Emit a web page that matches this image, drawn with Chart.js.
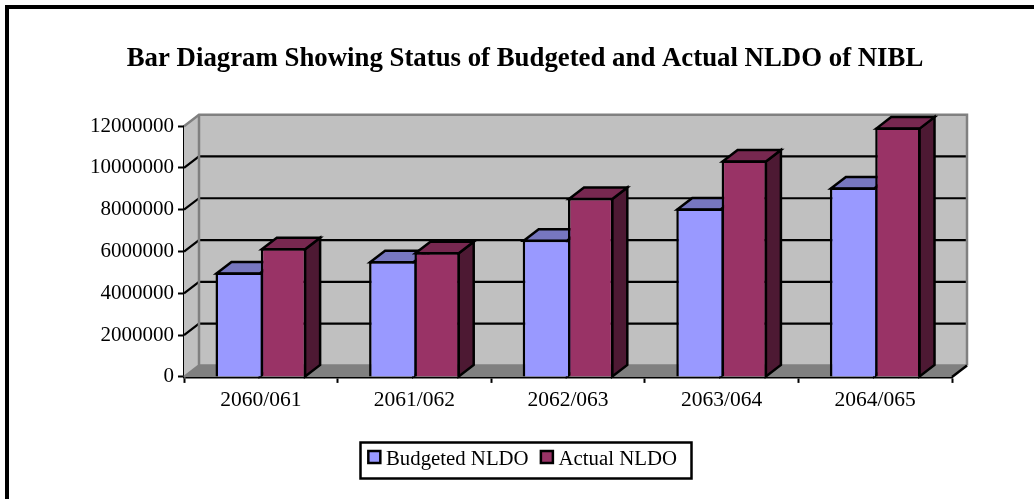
<!DOCTYPE html>
<html><head><meta charset="utf-8">
<style>html,body{margin:0;padding:0;background:#fff;width:1034px;height:499px;overflow:hidden}
#wrap{position:absolute;left:0;top:0;width:1034px;height:499px}
canvas{display:block}</style>
<script src="https://cdn.jsdelivr.net/npm/chart.js@4/dist/chart.umd.js"></script>
</head><body><div id="wrap"><canvas id="c" width="1034" height="499"></canvas></div>
<script>
const categories = ['2060/061','2061/062','2062/063','2063/064','2064/065'];
const budgeted = [5000000,5540000,6560000,8060000,9060000];
const actual = [6160000,5960000,8560000,10360000,11930000];
const seriesNames = ['Budgeted NLDO','Actual NLDO'];
const seriesColors = ['#9999FF','#993366'];
const titleText = 'Bar Diagram Showing Status of Budgeted and Actual NLDO of NIBL';
const yTicksStep = 2000000;
const serif = '"Liberation Serif","Times New Roman",serif';
const DX = 15, DY = 11.5;

function poly(ctx, pts, fill, stroke, lw){
  ctx.beginPath();
  pts.forEach((p,i)=> i?ctx.lineTo(p[0],p[1]):ctx.moveTo(p[0],p[1]));
  ctx.closePath();
  if(fill){ctx.fillStyle=fill;ctx.fill();}
  if(stroke){ctx.strokeStyle=stroke;ctx.lineWidth=lw;ctx.lineJoin='miter';ctx.stroke();}
}
const threeD = {
  id:'threeD',
  beforeDraw(chart){
    if(!chart.$shifted){
      chart.titleBlock.left+=5;chart.titleBlock.right+=5;
      chart.legend.left+=2;chart.legend.right+=2;
      chart.$shifted=true;
    }
  },
  beforeDatasetsDraw(chart){
    const ctx=chart.ctx, a=chart.chartArea, y=chart.scales.y;
    const L=a.left,R=a.right,T=a.top,B=a.bottom;
    ctx.save();
    poly(ctx,[[L+DX,T-DY],[R+DX,T-DY],[R+DX,B-DY],[L+DX,B-DY]],'#C0C0C0');
    poly(ctx,[[L,T],[L+DX,T-DY],[L+DX,B-DY],[L,B]],'#C0C0C0');
    poly(ctx,[[L,B],[L+DX,B-DY],[R+DX,B-DY],[R,B]],'#808080');
    y.ticks.forEach(t=>{
      const py=y.getPixelForValue(t.value);
      if(t.value===0||t.value===y.max) return;
      ctx.strokeStyle='#000';ctx.lineWidth=2.2;
      ctx.beginPath();ctx.moveTo(L,py);ctx.lineTo(L+DX,py-DY);ctx.lineTo(R+DX,py-DY);ctx.stroke();
    });
    ctx.strokeStyle='#808080';ctx.lineWidth=2.5;
    ctx.beginPath();ctx.moveTo(L,T);ctx.lineTo(L+DX,T-DY);ctx.lineTo(R+DX,T-DY);ctx.lineTo(R+DX,B-DY);ctx.stroke();
    ctx.beginPath();ctx.moveTo(L,B);ctx.lineTo(L+DX,B-DY);ctx.lineTo(L+DX,T-DY);ctx.stroke();
    ctx.beginPath();ctx.moveTo(L+DX,B-DY);ctx.lineTo(R+DX,B-DY);ctx.stroke();
    ctx.strokeStyle='#000';
    ctx.beginPath();ctx.moveTo(R,B);ctx.lineTo(R+DX,B-DY);ctx.stroke();
    const faces=[['#7777C0','#4D4D80'],['#772850','#4D1933']];
    chart.getDatasetMeta(0).data.forEach((_,i)=>{
      [0,1].forEach(ds=>{
        const b=chart.getDatasetMeta(ds).data[i];
        const l=b.x-b.width/2+1,r=b.x+b.width/2-1,t=b.y+1,bt=b.base;
        poly(ctx,[[r,t],[r+DX,t-DY],[r+DX,bt-DY],[r,bt]],faces[ds][1],'#000',2.5);
        poly(ctx,[[l,t],[l+DX,t-DY],[r+DX,t-DY],[r,t]],faces[ds][0],'#000',2.5);
      });
    });
    ctx.restore();
  },
  afterDraw(chart){
    const ctx=chart.ctx;
    ctx.save();
    ctx.fillStyle='#000';
    ctx.fillRect(5,5,1029,4);
    ctx.fillRect(5,5,4,494);
    ctx.strokeStyle='#000';ctx.lineWidth=2.5;
    ctx.strokeRect(360.5,442.5,331,36);
    chart.legend.legendHitBoxes.forEach((h,i)=>{
      const sx=h.left+2+1.25;
      ctx.fillStyle=seriesColors[i];
      ctx.fillRect(sx,451,12,12);
      ctx.strokeStyle='#000';ctx.lineWidth=2.5;
      ctx.strokeRect(sx,451,12,12);
    });
    ctx.restore();
  }
};
Chart.defaults.font.family=serif;
Chart.defaults.color='#000';
new Chart(document.getElementById('c'),{
  type:'bar',
  data:{labels:categories,datasets:[
    {label:seriesNames[0],data:budgeted,backgroundColor:seriesColors[0],borderColor:'#000',borderWidth:{top:2.5,left:2.5,right:0,bottom:0}},
    {label:seriesNames[1],data:actual,backgroundColor:seriesColors[1],borderColor:'#000',borderWidth:{top:2.5,left:2.5,right:2.5,bottom:0}}
  ]},
  plugins:[threeD],
  options:{
    responsive:false,animation:false,
    layout:{padding:{left:88,right:82,top:5,bottom:19}},
    datasets:{bar:{categoryPercentage:0.59,barPercentage:1}},
    plugins:{
      tooltip:{enabled:false},
      title:{display:true,text:titleText,font:{size:26.8,weight:'bold',family:serif},color:'#000',padding:{top:38,bottom:51}},
      legend:{position:'bottom',labels:{boxWidth:8.5,boxHeight:14,color:'#000',font:{size:20.8,family:serif},padding:11,
        generateLabels(chart){
          return chart.data.datasets.map((d,i)=>({text:d.label,fillStyle:'transparent',strokeStyle:'transparent',lineWidth:0,datasetIndex:i,hidden:false,fontColor:'#000'}));
        }}}
    },
    scales:{
      x:{grid:{drawOnChartArea:false,drawTicks:true,tickLength:6,tickColor:'#000',tickWidth:2,offset:true},
         border:{color:'#000',width:2.5},
         ticks:{font:{size:21.5,family:serif},color:'#000',padding:5,maxRotation:0},
         afterFit(s){s.height=61.3;}},
      y:{min:0,max:12000000,grid:{drawOnChartArea:false,drawTicks:true,tickLength:6,tickColor:'#000',tickWidth:2},
         border:{color:'#000',width:2.5},
         ticks:{stepSize:yTicksStep,font:{size:21,family:serif},color:'#000',padding:4,
           callback(v){return String(v);}},
         afterFit(s){s.width=96;}}
    }
  }
});
</script></body></html>
